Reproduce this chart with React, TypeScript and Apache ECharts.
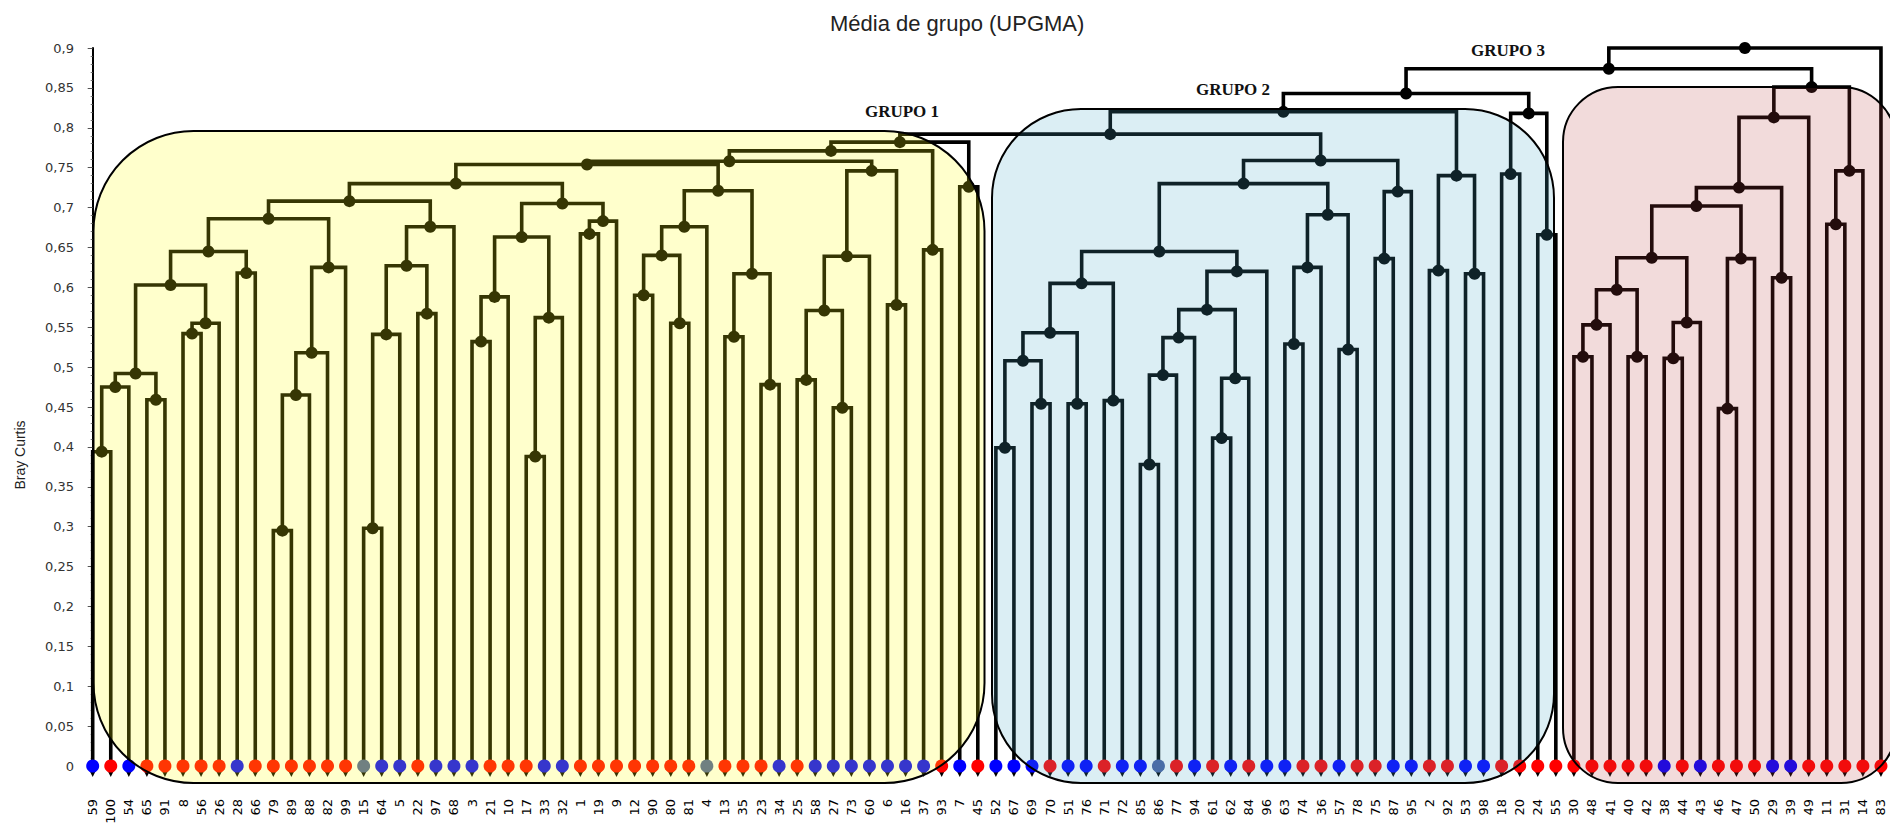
import React, { useEffect, useRef } from "react";
import * as echarts from "echarts";

// Leaf order (left to right)
const leafLabels = [
  "59","100","54","65","91","8","56","26","28","66",
  "79","89","88","82","99","15","64","5","22","97",
  "68","3","21","10","17","33","32","1","19","9",
  "12","90","80","81","4","13","35","23","34","25",
  "58","27","73","60","6","16","37","93","7","45",
  "52","67","69","70","51","76","71","72","85","86",
  "77","94","61","62","84","96","63","74","36","57",
  "78","75","87","95","2","92","53","98","18","20",
  "24","55","30","48","41","40","42","38","44","43",
  "46","47","50","29","39","49","11","31","14","83",
];

// b = blue, r = red, g = grey-blue
const leafClasses = (
  "brbrrrrrbr" + "rrrrrgbbrb" + "bbrrrbbrrr" + "rrrrgrrrbr" + "bbbbbbbrbr" +
  "bbbrbbrbbg" + "rbrbrbbrrb" + "rrbbrrbbrr" + "rrrrrrrbrb" + "rrrbbrrrrr"
).split("");

const classColors: Record<string, string> = { b: "#0000ff", r: "#ff0000", g: "#4a5fa0" };

// [node id, child A, child B, Bray-Curtis height]
const yellowMerges: [string, string, string, number][] = [
  ["A", "59", "100", 0.394],
  ["B", "A", "54", 0.475],
  ["C", "65", "91", 0.459],
  ["D", "B", "C", 0.492],
  ["E", "8", "56", 0.542],
  ["F", "E", "26", 0.555],
  ["G", "D", "F", 0.603],
  ["H", "28", "66", 0.618],
  ["I", "G", "H", 0.645],
  ["J", "79", "89", 0.295],
  ["K", "J", "88", 0.465],
  ["L", "K", "82", 0.518],
  ["M", "L", "99", 0.625],
  ["N", "I", "M", 0.686],
  ["O", "15", "64", 0.298],
  ["P", "O", "5", 0.541],
  ["Q", "22", "97", 0.567],
  ["R", "P", "Q", 0.627],
  ["S", "R", "68", 0.676],
  ["T", "N", "S", 0.708],
  ["U", "3", "21", 0.532],
  ["V", "U", "10", 0.588],
  ["W", "17", "33", 0.388],
  ["X", "W", "32", 0.562],
  ["Y", "V", "X", 0.663],
  ["Z", "1", "19", 0.667],
  ["AA", "Z", "9", 0.683],
  ["AB", "Y", "AA", 0.705],
  ["AC", "T", "AB", 0.73],
  ["Y1", "12", "90", 0.59],
  ["Y2", "80", "81", 0.555],
  ["Y3", "Y1", "Y2", 0.64],
  ["Y4", "Y3", "4", 0.676],
  ["Y5", "13", "35", 0.538],
  ["Y6", "23", "34", 0.478],
  ["Y7", "Y5", "Y6", 0.617],
  ["AE", "Y4", "Y7", 0.721],
  ["AD", "AC", "AE", 0.754],
  ["Y8", "25", "58", 0.484],
  ["Y9", "27", "73", 0.449],
  ["Y10", "Y8", "Y9", 0.571],
  ["Y11", "Y10", "60", 0.639],
  ["Y12", "6", "16", 0.578],
  ["AF", "Y11", "Y12", 0.746],
  ["AG", "AD", "AF", 0.758],
  ["AH", "37", "93", 0.647],
  ["AI", "AG", "AH", 0.771],
  ["AJ", "7", "45", 0.726],
  ["AK", "AI", "AJ", 0.782],
];

const blueMerges: [string, string, string, number][] = [
  ["b1", "52", "67", 0.399],
  ["b2", "69", "70", 0.454],
  ["b3", "b1", "b2", 0.508],
  ["b4", "51", "76", 0.454],
  ["b5", "b3", "b4", 0.543],
  ["b6", "71", "72", 0.458],
  ["b7", "b5", "b6", 0.605],
  ["b8", "85", "86", 0.378],
  ["b9", "b8", "77", 0.49],
  ["b10", "b9", "94", 0.537],
  ["b11", "61", "62", 0.411],
  ["b12", "b11", "84", 0.486],
  ["b13", "b10", "b12", 0.572],
  ["b14", "b13", "96", 0.62],
  ["b15", "b7", "b14", 0.645],
  ["b16", "63", "74", 0.529],
  ["b17", "b16", "36", 0.625],
  ["b18", "57", "78", 0.522],
  ["b19", "b17", "b18", 0.691],
  ["b20", "b15", "b19", 0.73],
  ["b21", "75", "87", 0.636],
  ["b22", "b21", "95", 0.72],
  ["b23", "b20", "b22", 0.759],
  ["b24", "2", "92", 0.621],
  ["b25", "53", "98", 0.617],
  ["b26", "b24", "b25", 0.74],
  ["b27", "18", "20", 0.742],
  ["b28", "24", "55", 0.666],
  ["b29", "b27", "b28", 0.818],
];

const redMerges: [string, string, string, number][] = [
  ["r1", "30", "48", 0.513],
  ["r2", "r1", "41", 0.553],
  ["r3", "40", "42", 0.513],
  ["r4", "r2", "r3", 0.597],
  ["r5", "38", "44", 0.511],
  ["r6", "r5", "43", 0.556],
  ["r7", "r4", "r6", 0.637],
  ["r8", "46", "47", 0.448],
  ["r9", "r8", "50", 0.636],
  ["r10", "r7", "r9", 0.702],
  ["r11", "29", "39", 0.612],
  ["r12", "r10", "r11", 0.725],
  ["r13", "r12", "49", 0.813],
  ["r14", "11", "31", 0.679],
  ["r15", "r14", "14", 0.746],
  ["r16", "r13", "r15", 0.851],
];

const topMerges: [string, string, string, number][] = [
  ["t1", "AK", "b23", 0.792],
  ["t2", "t1", "b26", 0.82],
  ["t3", "t2", "b29", 0.843],
  ["t4", "t3", "r16", 0.874],
  ["t5", "t4", "83", 0.9],
];

const groupLabels = ["GRUPO 1", "GRUPO 2", "GRUPO 3"];
const chartTitle = "Média de grupo (UPGMA)";
const yAxisTitle = "Bray Curtis";

export default function App() {
  const ref = useRef<HTMLDivElement>(null);

  useEffect(() => {
    if (!ref.current) return;
    const chart = echarts.init(ref.current, null, { renderer: "svg" });

    const allMerges = [...yellowMerges, ...blueMerges, ...redMerges, ...topMerges];
    const pos: Record<string, { x: number; y: number }> = {};
    leafLabels.forEach((l, i) => (pos[l] = { x: i, y: 0 }));
    allMerges.forEach(([id, a, b, h]) => {
      pos[id] = { x: (pos[a].x + pos[b].x) / 2, y: h };
    });

    const linkData = allMerges.map(([, a, b, h]) => [pos[a].x, pos[a].y, pos[b].x, pos[b].y, h]);
    const nodeData = allMerges.map(([id]) => [pos[id].x, pos[id].y]);
    const leafData = leafLabels.map((l, i) => ({
      value: [i, 0],
      itemStyle: { color: classColors[leafClasses[i]] },
    }));
    const arrowData = leafLabels.map((l, i) => [i, 0]);

    const option: any = {
      animation: false,
      backgroundColor: "#ffffff",
      title: {
        text: chartTitle,
        left: 830,
        top: 12,
        padding: 0,
        textStyle: {
          fontFamily: "Liberation Sans",
          fontSize: 22,
          fontWeight: "normal",
          color: "#222222",
        },
      },
      grid: { left: 83.66, top: 48, width: 1808.4, bottom: 63 },
      xAxis: [
        {
          type: "category",
          data: leafLabels,
          boundaryGap: true,
          axisLine: { show: false },
          axisTick: { show: false },
          splitLine: { show: false },
          axisLabel: {
            interval: 0,
            rotate: 90,
            margin: 33,
            fontFamily: "DejaVu Sans",
            fontSize: 13,
            color: "#000000",
          },
        },
        {
          type: "value",
          min: -0.5,
          max: 99.5,
          show: false,
        },
      ],
      yAxis: {
        type: "value",
        min: 0,
        max: 0.9,
        interval: 0.05,
        offset: 1.7,
        axisLine: { show: true, lineStyle: { color: "#000000", width: 2 } },
        axisTick: { show: true, length: 5, lineStyle: { color: "#555555" } },
        minorTick: { show: true, splitNumber: 5, length: 2, lineStyle: { color: "#777777" } },
        splitLine: { show: false },
        axisLabel: {
          margin: 8,
          fontFamily: "DejaVu Sans",
          fontSize: 13,
          color: "#333333",
          formatter: (v: number) => parseFloat(v.toFixed(2)).toString().replace(".", ","),
        },
      },
      series: [
        {
          type: "custom",
          xAxisIndex: 1,
          yAxisIndex: 0,
          z: 2,
          data: linkData,
          encode: { x: [0, 2], y: [1, 3, 4] },
          renderItem: (params: any, api: any) => {
            const p1 = api.coord([api.value(0), api.value(1)]);
            const p2 = api.coord([api.value(0), api.value(4)]);
            const p3 = api.coord([api.value(2), api.value(4)]);
            const p4 = api.coord([api.value(2), api.value(3)]);
            return {
              type: "polyline",
              shape: { points: [p1, p2, p3, p4] },
              style: { stroke: "#000000", lineWidth: 3.6, fill: "none", lineJoin: "miter" },
            };
          },
        },
        {
          type: "scatter",
          xAxisIndex: 1,
          yAxisIndex: 0,
          z: 3,
          clip: false,
          symbol: "circle",
          symbolSize: 12,
          itemStyle: { color: "#000000", opacity: 1 },
          data: nodeData,
        },
        {
          type: "scatter",
          xAxisIndex: 1,
          yAxisIndex: 0,
          z: 3,
          clip: false,
          symbol: "triangle",
          symbolRotate: 180,
          symbolSize: [8, 8],
          symbolOffset: [0, 7],
          itemStyle: { color: "#000000", opacity: 1 },
          data: arrowData,
        },
        {
          type: "scatter",
          xAxisIndex: 1,
          yAxisIndex: 0,
          z: 4,
          clip: false,
          symbol: "circle",
          symbolSize: 13,
          itemStyle: { opacity: 1 },
          data: leafData,
        },
      ],
      graphic: [
        {
          type: "rect",
          z: 100,
          shape: { x: 93.5, y: 131, width: 891, height: 652, r: 100 },
          style: { fill: "rgba(255,255,12,0.21)", stroke: "#000000", lineWidth: 2 },
        },
        {
          type: "rect",
          z: 100,
          shape: { x: 992, y: 109, width: 562, height: 674, r: 89 },
          style: { fill: "rgba(75,170,200,0.2)", stroke: "#000000", lineWidth: 2 },
        },
        {
          type: "rect",
          z: 100,
          shape: { x: 1563, y: 87, width: 333, height: 696, r: 55 },
          style: { fill: "rgba(186,64,64,0.19)", stroke: "#000000", lineWidth: 2 },
        },
        {
          type: "text",
          z: 101,
          x: 902,
          y: 111,
          style: {
            text: groupLabels[0],
            font: 'bold 17px "Liberation Serif"',
            fill: "#111111",
            textAlign: "center",
            textVerticalAlign: "middle",
          },
        },
        {
          type: "text",
          z: 101,
          x: 1233,
          y: 89,
          style: {
            text: groupLabels[1],
            font: 'bold 17px "Liberation Serif"',
            fill: "#111111",
            textAlign: "center",
            textVerticalAlign: "middle",
          },
        },
        {
          type: "text",
          z: 101,
          x: 1508,
          y: 50,
          style: {
            text: groupLabels[2],
            font: 'bold 17px "Liberation Serif"',
            fill: "#111111",
            textAlign: "center",
            textVerticalAlign: "middle",
          },
        },
        {
          type: "text",
          z: 101,
          x: 20,
          y: 455,
          rotation: Math.PI / 2,
          style: {
            text: yAxisTitle,
            font: '14px "Liberation Sans"',
            fill: "#222222",
            textAlign: "center",
            textVerticalAlign: "middle",
          },
        },
      ],
    };

    chart.setOption(option);
    return () => chart.dispose();
  }, []);

  return (
    <div
      ref={ref}
      style={{ position: "fixed", left: 0, top: 0, width: 1890, height: 829, overflow: "hidden" }}
    />
  );
}
